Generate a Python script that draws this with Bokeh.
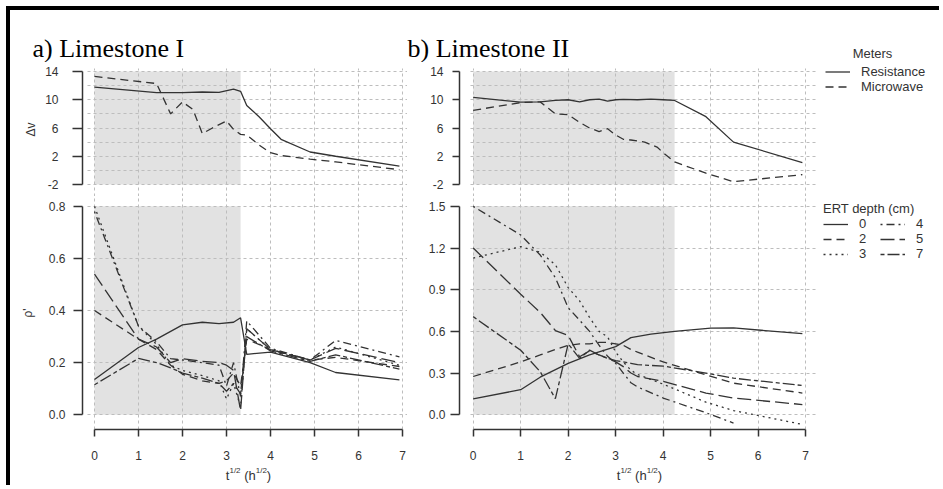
from bokeh.plotting import figure
from bokeh.models import Range1d, FixedTicker, PrintfTickFormatter, Label, Legend, LegendItem, Grid
from bokeh.layouts import row, column
from bokeh.embed import file_html
from bokeh.resources import INLINE

# ---------------- data (x = sqrt of time, h^1/2) ----------------
# Limestone I, delta-v (meters)
L_dv_res_x = [0, 1.41, 2.0, 2.45, 2.83, 3.16, 3.32, 3.46, 3.74, 4.0, 4.24, 4.9, 5.48, 6.93]
L_dv_res_y = [11.8, 11.0, 11.0, 11.1, 11.05, 11.5, 11.2, 9.2, 7.6, 5.9, 4.4, 2.6, 2.0, 0.6]
L_dv_mw_x = [0, 1.41, 1.73, 2.0, 2.24, 2.45, 2.65, 3.0, 3.16, 3.32, 3.46, 3.74, 4.0, 4.24, 4.9, 5.48, 6.93]
L_dv_mw_y = [13.3, 12.3, 8.0, 9.7, 8.6, 5.2, 5.9, 7.0, 5.8, 5.1, 5.0, 3.6, 2.5, 2.1, 1.6, 1.2, 0.1]

# Limestone II, delta-v
R_dv_res_x = [0, 1.0, 1.41, 1.73, 2.0, 2.24, 2.45, 2.65, 2.83, 3.0, 3.16, 3.46, 3.74, 4.0, 4.24, 4.9, 5.48, 6.93]
R_dv_res_y = [10.35, 9.65, 9.7, 9.9, 10.0, 9.7, 10.0, 10.1, 9.8, 10.0, 10.05, 10.0, 10.1, 10.0, 9.9, 7.6, 4.0, 1.1]
R_dv_mw_x = [0, 1.0, 1.41, 1.73, 2.0, 2.24, 2.45, 2.65, 2.83, 3.0, 3.16, 3.32, 3.61, 3.87, 4.0, 4.24, 4.9, 5.48, 6.93]
R_dv_mw_y = [8.5, 9.6, 9.7, 8.0, 7.9, 6.8, 6.0, 5.5, 5.9, 5.0, 4.4, 4.3, 4.0, 3.3, 2.5, 1.2, -0.4, -1.6, -0.6]

# Limestone I, rho' by ERT depth (cm)
L_rho_x = [0, 1, 1.41, 1.73, 2, 2.45, 2.83, 3.0, 3.16, 3.32, 3.46, 4.0, 4.9, 5.48, 6.93]
L_rho0_x = [0, 1, 1.41, 2, 2.45, 2.83, 3.16, 3.32, 3.46, 4.0, 4.9, 5.48, 6.93]
L_rho0 = [0.135, 0.258, 0.29, 0.345, 0.355, 0.35, 0.355, 0.372, 0.232, 0.24, 0.2, 0.162, 0.134]
L_rho2 = [0.40, 0.29, 0.25, 0.19, 0.155, 0.13, 0.12, 0.13, 0.16, 0.11, 0.29, 0.25, 0.21, 0.22, 0.185]
L_rho3 = [0.80, 0.34, 0.27, 0.19, 0.17, 0.15, 0.13, 0.06, 0.12, 0.03, 0.33, 0.25, 0.21, 0.26, 0.19]
L_rho4 = [0.78, 0.34, 0.28, 0.215, 0.21, 0.2, 0.19, 0.11, 0.2, 0.07, 0.36, 0.255, 0.21, 0.285, 0.222]
L_rho5 = [0.54, 0.29, 0.26, 0.2, 0.215, 0.205, 0.2, 0.19, 0.17, 0.015, 0.33, 0.25, 0.21, 0.255, 0.2]
L_rho7 = [0.115, 0.216, 0.2, 0.18, 0.16, 0.14, 0.12, 0.09, 0.12, 0.08, 0.3, 0.245, 0.205, 0.23, 0.175]

# Limestone II, rho'
R_rho0_x = [0, 1, 1.41, 2, 2.45, 3.0, 3.32, 3.74, 4.24, 5.0, 5.48, 6.93]
R_rho0 = [0.114, 0.18, 0.27, 0.37, 0.43, 0.49, 0.555, 0.58, 0.6, 0.623, 0.625, 0.583]
R_rho_x = [0, 1, 1.41, 1.73, 2, 2.24, 2.45, 2.65, 2.83, 3.0, 3.16, 3.32, 3.46, 4.0, 4.9, 5.48, 6.93]
R_rho2 = [0.275, 0.38, 0.43, 0.47, 0.5, 0.51, 0.51, 0.52, 0.52, 0.51, 0.5, 0.47, 0.45, 0.38, 0.287, 0.227, 0.156]
R_rho3 = [1.128, 1.21, 1.17, 1.08, 0.915, 0.82, 0.70, 0.60, 0.56, 0.45, 0.38, 0.32, 0.29, 0.22, 0.09, 0.03, -0.07]
R_rho4_x = [0, 1, 1.41, 1.73, 2, 2.24, 2.45, 2.65, 2.83, 3.0, 3.16, 3.32, 3.46, 4.0, 4.9, 5.48]
R_rho4 = [1.5, 1.294, 1.15, 0.986, 0.77, 0.68, 0.6, 0.5, 0.42, 0.37, 0.3, 0.23, 0.2, 0.12, 0.014, -0.06]
R_rho5 = [1.2, 0.867, 0.737, 0.606, 0.57, 0.417, 0.46, 0.43, 0.405, 0.38, 0.346, 0.3, 0.275, 0.24, 0.156, 0.12, 0.073]
R_rho7 = [0.706, 0.464, 0.31, 0.115, 0.51, 0.405, 0.465, 0.43, 0.405, 0.39, 0.38, 0.37, 0.36, 0.35, 0.3, 0.263, 0.21]

# shaded period end, h^1/2
L_shade_end = 3.32
R_shade_end = 4.24

dv_ticks = [-2, 2, 6, 10, 14]
dv_grid = [-2, 0, 2, 4, 6, 8, 10, 12, 14]
L_rho_ticks = [0.0, 0.2, 0.4, 0.6, 0.8]
R_rho_ticks = [0.0, 0.3, 0.6, 0.9, 1.2, 1.5]
x_ticks = [0, 1, 2, 3, 4, 5, 6, 7]

depth_labels = ["0", "2", "3", "4", "5", "7"]
meter_labels = ["Resistance", "Microwave"]
panel_titles = ["a) Limestone I", "b) Limestone II"]

# ---------------- style ----------------
INK = "#333333"
FONT = "Liberation Sans"
SHADE = "#e2e2e2"
GRIDC = "#bdbdbd"
DASH = {"0": "solid", "2": "8 5", "3": "2 4", "4": "2 4 8 4", "5": "14 5", "7": "4 3 12 3"}
LW = 1.3

# page geometry (px); content origin at page (10, 10)
X0, MID_X, X1 = 10, 407, 939
HEAD_Y0, TOP_Y0, MID_Y, FOOT_Y0, Y1 = 10, 62, 196, 462, 485

# scales: page px of value anchors
L_x0px, L_xs = 94.0, 44.0
R_x0px, R_xs = 472.7, 47.5
DV_y14, DV_ys = 71.0, 113.0 / 16.0
L_rho_y0, L_rho_ys = 417.0, 211.0 / 0.8
R_rho_y0, R_rho_ys = 417.0, 211.0 / 1.5


def xr(px0, xs, left, right):
    return ((left - px0) / xs, (right - px0) / xs)


def make_fig(x0, x1, y0, y1, frame_l, frame_r, frame_t, frame_b, xrng, yrng, xaxis, yaxis=True):
    p = figure(width=int(x1 - x0), height=int(y1 - y0), x_range=Range1d(*xrng), y_range=Range1d(*yrng),
               output_backend="svg", toolbar_location=None, title=None,
               x_axis_location="below" if xaxis else None,
               y_axis_location="left" if yaxis else None,
               min_border_left=int(frame_l - x0), min_border_right=int(x1 - frame_r),
               min_border_top=int(frame_t - y0), min_border_bottom=int(y1 - frame_b))
    p.outline_line_color = None
    p.background_fill_color = "white"
    p.border_fill_color = "white"
    for g in p.grid:
        g.visible = False
    return p


def style_axis(ax, ticks, fmt, standoff, tick_out=8):
    ax.ticker = FixedTicker(ticks=ticks)
    ax.bounds = (ticks[0], ticks[-1])
    ax.major_tick_out = tick_out
    ax.major_tick_in = 0
    ax.minor_tick_out = 0
    ax.minor_tick_in = 0
    ax.axis_line_color = INK
    ax.axis_line_width = 1.5
    ax.major_tick_line_color = INK
    ax.major_tick_line_width = 1.5
    ax.major_label_text_font = FONT
    ax.major_label_text_font_size = "12px"
    ax.major_label_text_color = INK
    ax.major_label_standoff = standoff
    ax.formatter = PrintfTickFormatter(format=fmt)


def ylabel(ax, text, standoff):
    ax.axis_label = text
    ax.axis_label_text_font = FONT
    ax.axis_label_text_font_size = "12px"
    ax.axis_label_text_font_style = "normal"
    ax.axis_label_text_color = INK
    ax.axis_label_standoff = standoff


def add_grids(p, yticks, xcross, ycross):
    gx = Grid(dimension=0, ticker=FixedTicker(ticks=x_ticks), grid_line_color=GRIDC,
              grid_line_dash="3 3", grid_line_width=1, cross_bounds=ycross)
    gy = Grid(dimension=1, ticker=FixedTicker(ticks=yticks), grid_line_color=GRIDC,
              grid_line_dash="3 3", grid_line_width=1, cross_bounds=xcross)
    p.add_layout(gx, "center")
    p.add_layout(gy, "center")


def ln(p, x, y, key):
    return p.line(x, y, line_color=INK, line_width=LW, line_dash=DASH[key])


def legend_common(lg, rowh):
    lg.padding = 0
    lg.margin = 0
    lg.spacing = 0
    lg.glyph_width = 25
    lg.glyph_height = rowh
    lg.label_height = rowh
    lg.label_standoff = 11
    lg.border_line_color = None
    lg.background_fill_alpha = 0
    lg.label_text_font = FONT
    lg.label_text_font_size = "13px"
    lg.label_text_color = INK
    lg.title_text_font = FONT
    lg.title_text_font_size = "13px"
    lg.title_text_font_style = "normal"
    lg.title_text_color = INK


L_xr = xr(L_x0px, L_xs, 82, MID_X)
R_xr = xr(R_x0px, R_xs, 459, X1)
# top panels: frame spans the whole canvas height (grid/axis limited by bounds)
dv_yr = (14 - (MID_Y - DV_y14) / DV_ys, 14 + (DV_y14 - TOP_Y0) / DV_ys)
dv_gridtop = 14 + (DV_y14 - 67.5) / DV_ys

# ---------------- header strip (panel titles, legend heading) ----------------
HEAD = make_fig(X0, X1, HEAD_Y0, TOP_Y0, X0, X1, HEAD_Y0, TOP_Y0,
                (X0, X1), (-TOP_Y0, -HEAD_Y0), False, False)
HEAD.add_layout(Label(x=32, y=-48, text=panel_titles[0], text_font="Liberation Serif",
                      text_font_size="26px", text_color="black", text_baseline="alphabetic",
                      text_align="left"))
HEAD.add_layout(Label(x=407, y=-48, text=panel_titles[1], text_font="Liberation Serif",
                      text_font_size="26px", text_color="black", text_baseline="alphabetic",
                      text_align="left"))
HEAD.add_layout(Label(x=872, y=-53, text="Meters", text_font=FONT, text_font_size="13px",
                      text_color=INK, text_baseline="middle", text_align="center"))

# ---------------- Limestone I, top ----------------
LT = make_fig(X0, MID_X, TOP_Y0, MID_Y, 82, MID_X, TOP_Y0, MID_Y, L_xr, dv_yr, False)
style_axis(LT.yaxis[0], dv_ticks, "%d", 14, 10)
ylabel(LT.yaxis[0], "Δv", 4)
add_grids(LT, dv_grid, (-0.15, L_xr[1]), (dv_yr[0], dv_gridtop))
LT.quad(left=[0], right=[L_shade_end], bottom=[dv_ticks[0]], top=[dv_ticks[-1]],
        fill_color=SHADE, line_color=None, level="image")
ln(LT, L_dv_res_x, L_dv_res_y, "0")
ln(LT, L_dv_mw_x, L_dv_mw_y, "2")

# ---------------- Limestone II, top ----------------
RT = make_fig(MID_X, X1, TOP_Y0, MID_Y, 459, X1, TOP_Y0, MID_Y, R_xr, dv_yr, False)
style_axis(RT.yaxis[0], dv_ticks, "%d", 9, 7)
add_grids(RT, dv_grid, (-0.05, 7.2), (dv_yr[0], dv_gridtop))
RT.quad(left=[0], right=[R_shade_end], bottom=[dv_ticks[0]], top=[dv_ticks[-1]],
        fill_color=SHADE, line_color=None, level="image")
r_res = ln(RT, R_dv_res_x, R_dv_res_y, "0")
r_mw = ln(RT, R_dv_mw_x, R_dv_mw_y, "2")

meters_leg = Legend(items=[LegendItem(label=meter_labels[0], renderers=[r_res]),
                           LegendItem(label=meter_labels[1], renderers=[r_mw])],
                    location=(825 - 459, MID_Y - 94))
legend_common(meters_leg, 15)
RT.add_layout(meters_leg)

# ---------------- Limestone I, bottom ----------------
L_rho_yr = (-(432 - L_rho_y0) / L_rho_ys, (L_rho_y0 - MID_Y) / L_rho_ys)
LB = make_fig(X0, MID_X, MID_Y, FOOT_Y0, 82, MID_X, MID_Y, 432, L_xr, L_rho_yr, True)
style_axis(LB.yaxis[0], L_rho_ticks, "%.1f", 8, 9)
style_axis(LB.xaxis[0], x_ticks, "%d", 14, 7)
ylabel(LB.yaxis[0], "ρ'", 11)
add_grids(LB, L_rho_ticks, (-0.15, L_xr[1]), (L_rho_yr[0], L_rho_yr[1]))
LB.quad(left=[0], right=[L_shade_end], bottom=[L_rho_ticks[0]], top=[L_rho_ticks[-1]],
        fill_color=SHADE, line_color=None, level="image")
ln(LB, L_rho0_x, L_rho0, "0")
ln(LB, L_rho_x, L_rho2, "2")
ln(LB, L_rho_x, L_rho3, "3")
ln(LB, L_rho_x, L_rho4, "4")
ln(LB, L_rho_x, L_rho5, "5")
ln(LB, L_rho_x, L_rho7, "7")

# ---------------- Limestone II, bottom ----------------
R_rho_yr = (-(432 - R_rho_y0) / R_rho_ys, (R_rho_y0 - MID_Y) / R_rho_ys)
RB = make_fig(MID_X, X1, MID_Y, FOOT_Y0, 459, X1, MID_Y, 432, R_xr, R_rho_yr, True)
style_axis(RB.yaxis[0], R_rho_ticks, "%.1f", 5, 9)
style_axis(RB.xaxis[0], x_ticks, "%d", 14, 7)
add_grids(RB, R_rho_ticks, (-0.05, 7.2), (R_rho_yr[0], R_rho_yr[1]))
RB.quad(left=[0], right=[R_shade_end], bottom=[R_rho_ticks[0]], top=[R_rho_ticks[-1]],
        fill_color=SHADE, line_color=None, level="image")
rr = {}
rr["0"] = ln(RB, R_rho0_x, R_rho0, "0")
rr["2"] = ln(RB, R_rho_x, R_rho2, "2")
rr["3"] = ln(RB, R_rho_x, R_rho3, "3")
rr["4"] = ln(RB, R_rho4_x, R_rho4, "4")
rr["5"] = ln(RB, R_rho_x, R_rho5, "5")
rr["7"] = ln(RB, R_rho_x, R_rho7, "7")

ert_a = Legend(items=[LegendItem(label=k, renderers=[rr[k]]) for k in depth_labels[:3]],
               location=(823 - 459, 432 - 264), title="ERT depth (cm)")
legend_common(ert_a, 14)
ert_a.title_standoff = 0
ert_b = Legend(items=[LegendItem(label=k, renderers=[rr[k]]) for k in depth_labels[3:]],
               location=(880 - 459, 432 - 264))
legend_common(ert_b, 14)
RB.add_layout(ert_a)
RB.add_layout(ert_b)

# ---------------- footer strip: x-axis titles t^{1/2} (h^{1/2}) ----------------
FOOT = make_fig(X0, X1, FOOT_Y0, Y1, X0, X1, FOOT_Y0, Y1, (X0, X1), (-Y1, -FOOT_Y0), False, False)
CW = {"t": 0.278, " ": 0.278, "(": 0.333, "h": 0.556, ")": 0.333, "1": 0.556, "/": 0.278, "2": 0.556}
# (text, font px, rise px, extra gap after in em of 13px)
pieces = [("t", 13, 0, 0.0), ("1/2", 8, 5, 0.278), ("(h", 13, 0, 0.0), ("1/2", 8, 5, 0.0), (")", 13, 0, 0.0)]


def add_xtitle(p, xc, yb):
    widths = [sum(CW[c] for c in s) * fs + g * 13 for s, fs, _, g in pieces]
    off = -sum(widths) / 2.0
    for (s, fs, rise, g), wdt in zip(pieces, widths):
        p.add_layout(Label(x=xc, y=yb, x_offset=off, y_offset=rise, text=s, text_font=FONT,
                           text_font_size=f"{fs}px", text_color=INK,
                           text_baseline="alphabetic", text_align="left"))
        off += wdt


add_xtitle(FOOT, L_x0px + 3.5 * L_xs, -475)
add_xtitle(FOOT, R_x0px + 3.5 * R_xs, -475)

lay = column(HEAD, row(column(LT, LB), column(RT, RB)), FOOT)
lay.styles = {"margin-left": "6px", "margin-top": "6px",
              "border-left": "4px solid #000", "border-top": "4px solid #000"}

open("out.html", "w").write(file_html(lay, INLINE))
